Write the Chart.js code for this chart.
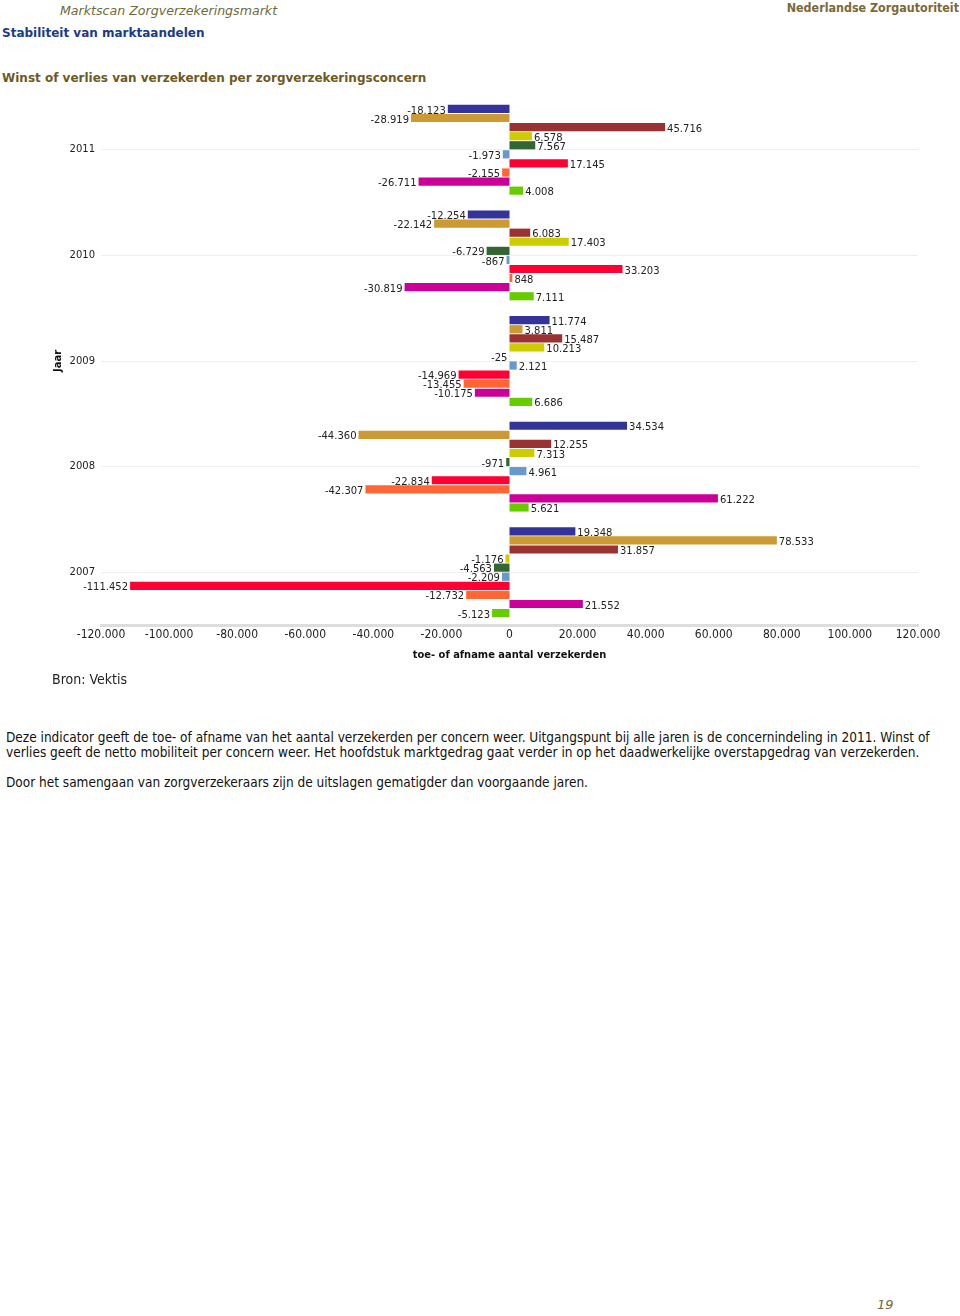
<!DOCTYPE html>
<html>
<head>
<meta charset="utf-8">
<script src="https://cdn.jsdelivr.net/npm/chart.js@4.4.0/dist/chart.umd.min.js"></script>
<style>
  body { margin: 0; width: 960px; height: 1316px; background: #fff; position: relative; font-family: "DejaVu Sans", Verdana, sans-serif; }
  .t { position: absolute; white-space: nowrap; }
  #kop { left: 60px; top: 3px; font: italic 12.6px "DejaVu Sans"; color: #6d6a3c; }
  #nza { right: 1px; top: 0px; font: bold 12.4px "DejaVu Sans Condensed"; color: #7a6838; }
  #sub { left: 2px; top: 26px; font: bold 12px "DejaVu Sans"; color: #1b3a8a; }
  #titel { left: 2px; top: 71px; font: bold 12px "DejaVu Sans"; color: #6e5a1f; }
  #bron { left: 52px; top: 671px; font: 14px "DejaVu Sans Condensed"; color: #222; }
  #tekst { left: 6px; top: 730px; font: 13.5px/15px "DejaVu Sans Condensed"; color: #111; }
  #pagina { left: 877px; top: 1297px; font: italic 13px "DejaVu Sans"; color: #6d6a3c; }
  #wrap { position: absolute; left: 0; top: 85px; width: 960px; height: 593px; }
</style>
</head>
<body>
<div class="t" id="kop">Marktscan Zorgverzekeringsmarkt</div>
<div class="t" id="nza">Nederlandse Zorgautoriteit</div>
<div class="t" id="sub">Stabiliteit van marktaandelen</div>
<div class="t" id="titel">Winst of verlies van verzekerden per zorgverzekeringsconcern</div>
<div id="wrap"><canvas id="chart" width="960" height="593"></canvas></div>
<div class="t" id="bron">Bron: Vektis</div>
<div class="t" id="tekst">Deze indicator geeft de toe- of afname van het aantal verzekerden per concern weer. Uitgangspunt bij alle jaren is de concernindeling in 2011. Winst of<br>verlies geeft de netto mobiliteit per concern weer. Het hoofdstuk marktgedrag gaat verder in op het daadwerkelijke overstapgedrag van verzekerden.<br><br>Door het samengaan van zorgverzekeraars zijn de uitslagen gematigder dan voorgaande jaren.</div>
<div class="t" id="pagina">19</div>

<script>
// years on the category axis
const years = ['2011', '2010', '2009', '2008', '2007'];

// change in number of insured per concern, same order as years
const concern1 = [-18123, -12254, 11774, 34534, 19348];
const concern2 = [-28919, -22142, 3811, -44360, 78533];
const concern3 = [45716, 6083, 15487, 12255, 31857];
const concern4 = [6578, 17403, 10213, 7313, -1176];
const concern5 = [7567, -6729, -25, -971, -4563];
const concern6 = [-1973, -867, 2121, 4961, -2209];
const concern7 = [17145, 33203, -14969, -22834, -111452];
const concern8 = [-2155, 848, -13455, -42307, -12732];
const concern9 = [-26711, -30819, -10175, 61222, 21552];
const concern10 = [4008, 7111, 6686, 5621, -5123];

// x axis range
const xMin = -120000;
const xMax = 120000;
const xStep = 20000;

const colors = ['#333399', '#cc9933', '#993333', '#cccc00', '#336633',
                '#6699cc', '#ff0033', '#ff6633', '#cc0099', '#66cc00'];
const seriesData = [concern1, concern2, concern3, concern4, concern5,
                    concern6, concern7, concern8, concern9, concern10];

function fmt(v) {
  const s = String(Math.abs(v)).replace(/\B(?=(\d{3})+(?!\d))/g, '.');
  return (v < 0 ? '-' : '') + s;
}

// value labels at bar ends + axis titles
const labelPlugin = {
  id: 'labels',
  afterDatasetsDraw(chart) {
    const ctx = chart.ctx;
    ctx.save();
    ctx.font = '10px "DejaVu Sans"';
    ctx.fillStyle = '#222';
    ctx.textBaseline = 'middle';
    chart.data.datasets.forEach((ds, i) => {
      const meta = chart.getDatasetMeta(i);
      meta.data.forEach((bar, j) => {
        const v = ds.data[j];
        if (v >= 0) {
          ctx.textAlign = 'left';
          ctx.fillText(fmt(v), bar.x + 2, bar.y + 2);
        } else {
          ctx.textAlign = 'right';
          ctx.fillText(fmt(v), bar.x - 2, bar.y + 2);
        }
      });
    });
    const area = chart.chartArea;
    ctx.font = 'bold 11px "DejaVu Sans Condensed"';
    ctx.fillStyle = '#111';
    ctx.textAlign = 'center';
    ctx.fillText('toe- of afname aantal verzekerden', chart.scales.x.getPixelForValue(0), area.bottom + 30);
    ctx.translate(58, (area.top + area.bottom) / 2);
    ctx.rotate(-Math.PI / 2);
    ctx.font = 'bold 10px "DejaVu Sans"';
    ctx.fillText('Jaar', 0, 0);
    ctx.restore();
  }
};

new Chart(document.getElementById('chart'), {
  type: 'bar',
  data: {
    labels: years,
    datasets: seriesData.map((d, i) => ({
      label: 'Concern ' + (i + 1),
      data: d,
      backgroundColor: colors[i],
      categoryPercentage: 0.86,
      barPercentage: 0.9
    }))
  },
  options: {
    indexAxis: 'y',
    responsive: false,
    devicePixelRatio: 1,
    animation: false,
    layout: { padding: { top: 1, right: 42, left: 0, bottom: 0 } },
    plugins: { legend: { display: false }, tooltip: { enabled: false } },
    scales: {
      x: {
        min: xMin,
        max: xMax,
        afterFit: s => { s.height = 53; },
        ticks: {
          stepSize: xStep,
          padding: 3,
          color: '#222',
          font: { family: 'DejaVu Sans Condensed', size: 12 },
          callback: v => fmt(v)
        },
        grid: { display: false, drawTicks: false },
        border: { display: true, color: '#dddddd', width: 3 }
      },
      y: {
        afterFit: s => { s.width = 101; },
        ticks: {
          padding: 6,
          color: '#222',
          font: { family: 'DejaVu Sans', size: 10 }
        },
        grid: { offset: false, color: '#eeeeee', drawTicks: false },
        border: { display: false }
      }
    }
  },
  plugins: [labelPlugin]
});
</script>
</body>
</html>
